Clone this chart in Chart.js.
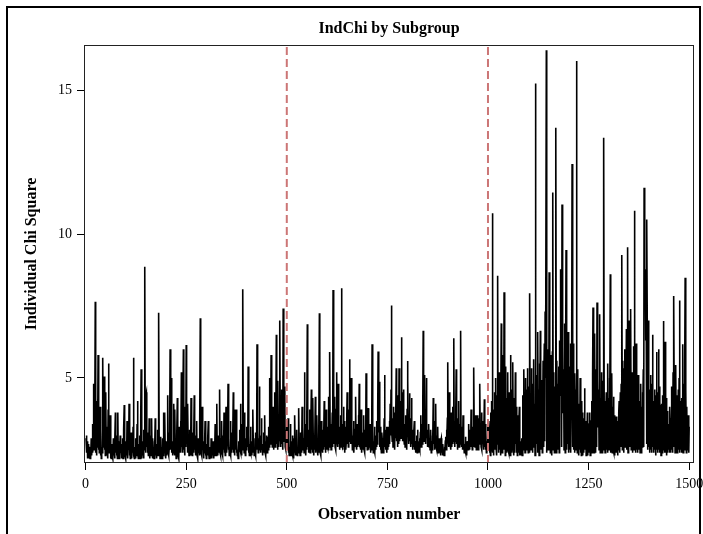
<!DOCTYPE html>
<html>
<head>
<meta charset="utf-8">
<script src="https://cdn.jsdelivr.net/npm/chart.js@4.4.1/dist/chart.umd.min.js"></script>
<style>
  html, body { margin: 0; padding: 0; background: #fff; }
  #wrap { width: 703px; height: 534px; }
</style>
</head>
<body>
<div id="wrap"><canvas id="c" width="703" height="534"></canvas></div>
<script>
// Individual chi-square values, observations 1..1500 (50 per row)
const indChi = [
2.9,3.0,2.4,2.8,2.2,2.7,2.3,2.2,2.6,2.3, 2.2,2.5,2.2,2.9,2.3,2.6,3.4,2.4,2.7,4.8, 2.5,3.6,2.6,7.65,2.4,3.1,2.3,4.2,2.6,3.3, 5.8,2.5,3.9,2.4,2.9,4.0,2.3,3.2,2.2,2.6, 2.4,3.5,5.7,2.6,3.0,5.05,2.5,3.4,2.3,4.5,
2.7,2.3,3.3,2.5,2.2,3.9,5.5,2.6,2.4,3.1, 3.7,2.2,2.4,2.2,2.7,2.3,2.5,2.2,2.9,2.3, 2.6,2.2,2.8,3.8,2.4,3.0,2.3,2.5,2.2,3.8, 2.4,2.8,2.2,2.6,2.3,3.0,2.4,2.7,2.2,2.5, 2.3,2.9,2.2,2.4,3.2,4.06,2.5,2.3,2.8,2.2,
2.6,2.3,3.5,2.4,2.2,2.9,2.5,4.1,2.3,2.7, 2.2,2.5,3.1,2.3,2.2,2.8,2.4,3.3,5.7,2.3, 2.2,2.6,2.4,2.2,2.9,2.3,2.5,3.4,4.2,2.4, 2.2,2.7,2.3,2.5,3.0,2.2,3.6,5.3,2.4,2.2, 2.6,2.3,2.8,2.2,3.2,2.5,8.87,3.9,2.4,4.4,
4.5,2.6,3.1,2.4,2.8,2.3,2.5,3.6,2.2,2.7, 2.4,3.0,2.3,3.6,2.5,2.2,2.9,2.4,2.6,2.2, 2.8,2.4,3.6,2.3,2.5,2.2,2.7,2.3,3.2,2.4, 2.6,7.27,2.3,2.8,2.2,2.5,2.95,2.3,2.6,2.2, 2.4,2.9,2.3,3.8,2.5,2.7,3.8,2.4,2.2,2.6,
2.3,2.8,2.5,4.4,2.4,3.1,2.3,2.6,3.4,6.0, 2.5,3.3,5.0,2.4,2.8,2.3,2.6,2.4,4.1,2.5, 2.3,3.9,2.4,2.9,2.2,2.7,3.0,4.3,2.5,2.3, 2.6,2.2,3.3,2.4,2.8,3.5,2.4,5.2,2.6,3.0, 2.4,3.7,6.0,2.5,3.2,2.3,2.8,4.0,2.6,6.15,
2.7,3.6,2.4,4.1,2.5,2.8,2.3,3.2,2.4,2.6, 2.3,4.3,2.5,2.9,2.3,2.6,3.1,2.4,2.7,4.4, 2.5,2.8,2.3,3.0,2.4,3.5,2.3,2.6,2.2,2.9, 2.4,2.7,2.3,3.3,7.08,2.6,2.4,3.1,2.3,4.0, 2.5,2.8,2.2,2.6,2.4,2.9,3.5,2.3,2.5,2.2,
2.4,2.7,2.3,2.9,3.5,2.4,2.2,2.6,2.3,2.5, 2.2,2.9,2.4,2.2,2.6,2.3,2.8,2.2,2.4,2.3, 2.6,3.4,2.4,2.7,2.3,4.1,2.5,2.8,2.3,3.0, 2.4,2.6,4.6,2.4,2.9,2.3,2.7,3.5,2.4,2.6, 2.3,3.0,2.5,3.8,2.4,2.7,2.3,3.2,4.0,2.5,
2.4,2.8,3.3,4.8,2.5,2.9,2.3,2.6,2.4,3.5, 2.3,2.7,2.4,3.1,2.5,2.8,4.5,2.4,2.6,2.3, 3.0,3.9,2.5,3.9,2.4,2.7,2.3,2.5,2.2,2.8, 2.4,2.6,3.2,2.5,4.1,2.4,2.9,2.3,3.4,2.6, 8.09,2.5,3.0,2.4,3.8,2.6,2.3,2.9,2.5,3.3,
2.5,3.1,2.6,5.4,2.4,3.0,2.3,2.7,2.5,3.3, 2.4,2.8,2.3,2.6,2.4,3.9,2.5,2.9,2.3,2.6, 2.4,3.1,2.3,2.7,2.5,6.17,2.6,3.2,2.4,2.9, 2.5,4.7,2.6,3.0,2.4,2.8,3.6,2.5,2.7,2.3, 2.6,2.4,3.1,2.5,3.7,2.4,2.8,2.3,2.6,3.0,
2.4,2.7,2.95,2.5,3.3,2.6,3.8,5.0,2.7,3.4, 5.8,2.8,3.5,2.6,3.0,4.0,2.5,3.4,2.8,4.5, 2.6,3.7,2.9,6.5,2.7,3.9,2.5,4.9,3.1,2.6, 3.6,2.8,7.0,3.0,2.6,3.9,4.6,2.7,3.3,2.5, 7.42,3.1,4.2,2.8,4.7,2.6,3.2,2.5,2.9,3.5,
2.8,2.5,3.6,2.4,2.9,2.3,2.6,2.4,3.4,2.5, 2.3,2.8,2.4,3.0,2.3,2.6,2.2,2.9,2.4,3.7, 2.5,2.3,2.7,2.4,3.2,2.3,2.6,2.4,2.8,3.95, 2.4,2.7,2.3,3.1,2.5,2.8,2.4,4.0,2.6,3.3, 2.5,2.9,2.4,5.2,2.6,3.4,2.3,2.8,2.5,3.1,
6.87,2.6,3.2,2.4,2.8,2.5,3.9,2.4,2.7,3.1, 4.6,2.5,2.9,2.4,4.3,2.6,2.3,3.0,2.5,2.8, 4.35,2.4,2.7,3.3,3.7,2.5,2.3,2.8,2.4,3.0, 7.25,2.6,2.4,2.9,2.3,3.5,2.5,2.7,2.4,3.2, 2.5,2.8,4.2,2.6,3.1,2.4,2.9,3.9,2.5,2.7,
2.6,3.3,2.5,4.35,2.8,3.6,5.9,2.6,3.4,2.5, 3.0,2.7,3.8,2.6,8.06,3.1,2.7,3.5,4.35,2.6, 3.2,2.5,3.9,5.2,2.8,3.4,2.6,4.8,2.7,3.3, 2.5,3.0,2.6,3.7,2.8,8.12,2.7,3.4,2.5,3.1, 4.0,2.6,3.5,2.4,2.9,3.3,2.5,2.8,3.6,4.5,
2.7,3.4,2.6,3.9,2.8,5.65,2.9,3.6,2.7,5.0, 2.8,3.3,2.5,3.0,2.6,3.5,2.4,2.9,2.6,3.2, 4.35,2.7,3.1,2.5,3.4,2.6,2.9,3.7,2.8,4.8, 2.6,3.3,2.5,2.8,3.9,2.4,2.7,2.5,3.1,2.6, 3.7,2.5,2.9,2.4,3.2,2.6,5.16,2.8,3.4,2.5,
2.7,3.95,2.5,3.0,2.6,2.8,3.4,2.4,2.7,2.5, 2.9,6.17,2.6,3.2,2.4,2.8,2.5,3.3,2.4,2.7, 2.5,3.0,2.6,3.5,2.7,4.0,5.92,3.1,3.6,4.87, 2.6,3.3,2.5,2.8,2.4,3.1,2.9,2.5,2.7,2.4, 2.8,3.6,5.1,2.6,3.2,2.5,2.8,2.4,3.3,2.6,
2.5,3.3,2.6,2.9,3.5,2.7,4.1,3.0,4.6,7.52, 3.2,2.8,3.6,2.6,4.0,2.7,3.3,2.5,3.8,2.9, 3.4,5.34,2.8,3.9,2.6,3.2,4.4,2.7,5.34,3.1, 2.8,3.6,4.2,2.9,6.42,3.5,4.5,2.8,3.3,4.6, 3.0,2.7,3.4,2.6,3.7,2.8,3.2,2.5,3.9,5.59,
4.9,3.1,2.7,3.4,4.47,2.8,3.6,2.6,3.0,4.3, 2.7,3.2,2.5,2.9,2.6,3.1,3.5,2.5,2.8,2.4, 2.7,2.5,3.0,2.4,3.2,2.6,2.8,2.4,2.6,2.9, 2.5,3.1,3.7,2.6,2.9,3.4,2.7,4.2,6.64,3.5, 2.8,4.0,5.1,3.3,2.7,3.8,5.0,2.9,3.2,2.6,
2.8,3.1,3.4,2.6,2.9,2.5,2.7,3.2,2.4,2.8, 2.5,3.0,2.6,4.3,2.7,3.5,2.5,2.9,3.3,4.1, 2.6,3.0,2.5,2.8,3.3,2.4,2.7,2.5,2.9,2.4, 2.6,2.3,2.8,2.9,2.4,2.6,2.3,2.7,2.4,2.5, 2.3,2.6,2.4,2.8,2.95,2.5,3.2,2.7,3.6,5.55,
2.8,3.4,2.6,4.5,3.0,2.7,3.3,2.5,3.8,2.6, 3.1,2.7,4.0,2.8,6.38,3.2,2.6,3.5,2.8,3.9, 5.3,2.7,3.2,2.5,3.6,2.8,4.2,2.6,3.0,3.4, 2.7,6.64,2.9,3.3,2.6,2.9,2.5,3.7,2.6,2.8, 2.4,2.7,2.5,2.95,2.4,2.6,2.3,2.8,2.5,2.7,
2.5,3.4,2.7,2.9,2.5,3.2,2.6,3.9,2.7,3.0, 2.5,2.8,3.3,2.6,5.36,2.9,3.5,2.6,3.1,3.7, 2.5,2.9,3.7,2.6,3.2,2.5,3.6,2.8,3.4,4.8, 2.7,3.1,2.6,3.8,2.5,3.5,2.7,3.0,2.5,2.9, 4.26,2.6,3.4,2.5,3.1,2.4,2.8,2.5,3.3,2.6,
2.7,3.5,3.3,2.4,3.0,2.3,3.8,2.5,4.2,2.6, 10.73,2.4,3.6,2.3,3.9,4.5,2.5,3.4,5.0,2.6, 2.3,4.4,2.7,8.56,3.5,2.4,4.1,5.2,2.5,4.6, 2.3,3.7,6.9,2.6,2.4,4.7,3.4,5.8,2.5,7.98, 2.6,4.9,2.3,5.4,2.8,4.3,2.4,3.6,5.2,2.5,
3.8,2.4,4.5,2.6,2.3,5.8,3.4,4.6,2.4,3.7, 4.8,5.55,2.5,2.3,4.3,3.5,2.4,5.2,2.7,4.0, 2.4,3.5,2.3,3.7,2.6,2.4,3.3,4.0,2.3,2.8, 2.3,2.6,2.4,2.9,2.3,3.2,4.4,2.5,5.3,3.6, 4.5,2.4,3.8,5.0,2.6,4.6,2.5,5.34,3.5,2.4,
3.4,4.7,2.4,7.95,2.6,4.2,2.5,5.34,3.3,4.8, 2.4,3.7,4.5,5.65,2.6,4.1,2.3,15.25,2.5,4.4, 2.7,5.1,2.4,6.6,3.1,4.6,2.3,5.5,2.6,6.64, 2.5,4.3,3.0,4.93,2.4,3.8,5.6,2.6,4.7,6.2, 2.8,7.31,5.0,6.8,16.41,2.4,6.0,3.4,5.2,2.5,
3.6,8.68,2.5,4.3,2.4,5.8,2.6,4.5,2.3,5.9, 11.46,2.5,5.2,4.1,2.4,4.7,2.6,6.0,13.71,2.4, 5.6,4.2,2.5,4.8,3.6,5.4,2.4,6.3,4.4,8.78, 5.0,6.6,2.6,11.04,4.6,6.1,3.8,5.3,2.5,6.9, 4.2,2.4,5.9,9.45,4.8,2.5,5.1,2.7,6.6,2.4,
3.3,5.4,2.5,3.4,6.2,2.4,4.5,5.7,12.45,2.6, 4.8,6.2,2.5,4.3,2.4,5.16,3.9,4.6,2.5,16.03, 4.4,2.4,5.3,2.6,4.1,2.3,3.8,2.5,5.0,2.4, 3.7,2.3,4.2,2.5,3.8,2.3,3.4,2.4,3.6,4.64, 2.5,2.7,3.5,2.3,3.2,2.4,3.8,2.3,3.1,2.5,
2.4,3.4,3.8,2.3,3.1,2.5,3.5,4.2,2.4,5.1, 7.45,2.5,4.7,2.4,6.55,3.8,4.4,2.4,5.3,2.6, 7.63,4.1,5.0,3.3,4.6,2.5,5.8,7.22,2.4,4.3, 2.5,5.2,4.0,2.4,4.9,2.6,5.6,13.36,2.5,4.2, 2.4,3.7,3.3,4.5,2.5,3.9,2.4,5.5,2.6,4.3,
2.5,5.0,3.6,8.61,2.4,4.6,2.6,5.16,2.4,4.0, 2.5,4.35,2.4,3.7,2.3,3.4,2.4,3.3,3.66,2.4, 3.2,2.3,3.5,2.5,3.8,4.2,2.4,3.6,4.5,2.6, 4.8,3.9,9.28,2.5,5.6,3.5,2.4,5.34,3.8,6.0, 2.6,5.2,3.6,6.7,2.5,5.4,9.55,2.4,6.2,3.9,
7.0,2.6,5.8,3.9,7.4,2.5,3.5,5.2,3.8,2.4, 3.6,6.1,2.5,10.82,3.9,5.5,2.4,6.2,4.0,2.5, 4.6,2.4,5.1,3.8,2.5,3.2,4.2,2.4,3.1,4.8, 2.4,4.0,2.6,4.5,3.6,5.3,2.6,11.62,8.7,8.5, 8.78,6.3,7.8,2.7,10.52,6.6,2.5,7.0,5.2,2.6,
4.6,2.4,3.8,5.1,2.5,4.3,2.4,4.8,6.5,2.6, 4.2,2.4,3.9,4.6,2.5,4.4,2.3,3.7,5.9,2.5, 4.5,2.4,3.8,6.0,2.5,4.7,2.4,3.6,4.06,2.3, 3.5,4.1,2.4,4.4,2.5,6.98,3.8,4.5,2.4,6.26, 3.9,2.4,4.3,2.3,3.6,3.85,2.4,3.4,2.5,3.3,
2.4,4.0,3.3,2.4,3.6,4.7,2.5,4.1,2.4,5.2, 2.6,7.85,3.8,4.5,2.4,4.0,5.45,2.5,4.4,2.4, 3.71,2.4,4.6,2.5,5.0,7.7,2.4,4.2,2.5,3.4, 2.4,4.3,2.6,6.17,2.4,4.8,3.4,2.5,5.6,8.49, 3.8,4.6,2.4,4.0,2.5,3.2,2.95,3.7,2.4,3.3
];
// Observation numbers (1-based index of each value)
const obs = indChi.map((_, i) => i + 1);
// Subgroup boundaries (dashed reference lines)
const subgroupBounds = [500, 1000];
// Tick labels
const xTicks = [0, 250, 500, 750, 1000, 1250, 1500];
const yTicks = [5, 10, 15];

const Y_MIN = 2.04, Y_MAX = 16.59, X_MIN = -4, X_MAX = 1512;
const SERIF = "'Liberation Serif', 'Times New Roman', serif";

const framePlugin = {
  id: 'frame',
  beforeDraw(chart) {
    const ctx = chart.ctx;
    ctx.save();
    ctx.fillStyle = '#ffffff';
    ctx.fillRect(0, 0, chart.width, chart.height);
    ctx.strokeStyle = '#000000';
    ctx.lineWidth = 2;
    ctx.strokeRect(7, 7, 693, 620);
    ctx.restore();
  },
  afterLayout(chart) {
    const a = chart.chartArea;
    if (chart.titleBlock) {
      chart.titleBlock.left = a.left;
      chart.titleBlock.right = a.right;
    }
  },
  afterDraw(chart) {
    const a = chart.chartArea;
    const ctx = chart.ctx;
    ctx.save();
    ctx.strokeStyle = '#222222';
    ctx.lineWidth = 1;
    ctx.strokeRect(Math.round(a.left) + 0.5, Math.round(a.top) + 0.5,
      Math.round(a.right - a.left) - 1, Math.round(a.bottom - a.top) - 1);
    ctx.restore();
  }
};

const datasets = subgroupBounds.map(b => ({
  data: [{ x: b, y: Y_MIN }, { x: b, y: Y_MAX }],
  borderColor: 'rgb(204,118,118)',
  borderWidth: 2,
  borderDash: [8, 4],
  pointRadius: 0,
  order: 0
}));
datasets.push({
  data: obs.map((o, i) => ({ x: o, y: indChi[i] })),
  borderColor: '#000000',
  borderWidth: 1.6,
  pointRadius: 0,
  tension: 0,
  order: 1
});

new Chart(document.getElementById('c'), {
  type: 'line',
  data: { datasets },
  plugins: [framePlugin],
  options: {
    responsive: false,
    animation: false,
    devicePixelRatio: 1,
    layout: { padding: { left: 0, right: 9, top: 0, bottom: 0 } },
    plugins: {
      legend: { display: false },
      tooltip: { enabled: false },
      title: {
        display: true,
        text: 'IndChi by Subgroup',
        color: '#000',
        font: { family: SERIF, size: 16, weight: 'bold' },
        padding: { top: 19.4, bottom: 6.4 }
      }
    },
    scales: {
      x: {
        type: 'linear',
        min: X_MIN, max: X_MAX,
        afterBuildTicks: s => { s.ticks = xTicks.map(v => ({ value: v })); },
        afterFit: s => { s.height = 71; s.paddingLeft = 0; s.paddingRight = 0; },
        border: { display: false },
        grid: { drawOnChartArea: false, drawTicks: true, tickLength: 7, color: '#000', lineWidth: 1 },
        ticks: { color: '#000', font: { family: SERIF, size: 14 }, padding: 6, maxRotation: 0, autoSkip: false,
                 callback: v => String(v) },
        title: {
          display: true, text: 'Observation number', color: '#000',
          font: { family: SERIF, size: 16, weight: 'bold' },
          padding: { top: 0, bottom: 9.4 }
        }
      },
      y: {
        type: 'linear',
        min: Y_MIN, max: Y_MAX,
        afterBuildTicks: s => { s.ticks = yTicks.map(v => ({ value: v })); },
        afterFit: s => { s.width = 84; s.paddingTop = 0; s.paddingBottom = 0; },
        border: { display: false },
        grid: { drawOnChartArea: false, drawTicks: true, tickLength: 7, color: '#000', lineWidth: 1 },
        ticks: { color: '#000', font: { family: SERIF, size: 14 }, padding: 5, callback: v => String(v) },
        title: {
          display: true, text: 'Individual Chi Square', color: '#000',
          font: { family: SERIF, size: 16, weight: 'bold' },
          padding: { top: 21.9, bottom: 0 }
        }
      }
    }
  }
});
</script>
</body>
</html>
